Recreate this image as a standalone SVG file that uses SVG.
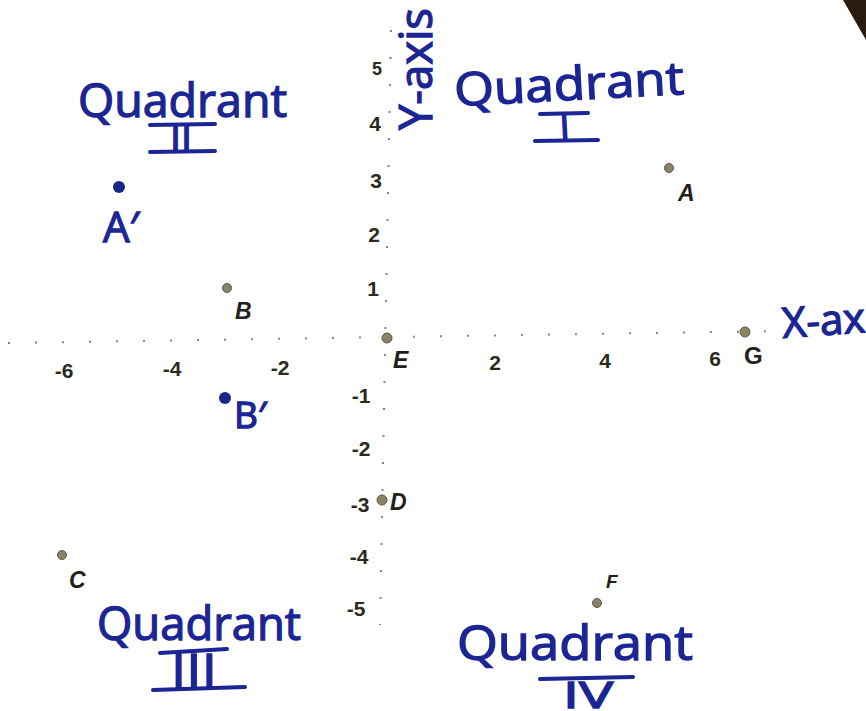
<svg xmlns="http://www.w3.org/2000/svg" width="866" height="711" viewBox="0 0 866 711">
<style>
.hand{font-family:"Open Sans","Liberation Sans",sans-serif;fill:#1b2594;stroke:#1b2594;stroke-width:1.3}
.bar{stroke:#1b2594;stroke-width:4;stroke-linecap:round;fill:none}
.num{font-family:"Liberation Sans",Arial,sans-serif;font-weight:bold;font-size:21px;fill:#2b2a1c;text-anchor:middle}
.lbl{font-family:"Liberation Sans",Arial,sans-serif;font-weight:bold;font-style:italic;font-size:23px;fill:#22201a}
.pt{fill:#8a8366;stroke:#5e573f;stroke-width:1}
.bpt{fill:#1a2688}
.axis{stroke:#8a8570;stroke-width:2;stroke-dasharray:2 25;fill:none}
</style>
<rect width="866" height="711" fill="#ffffff"/>
<polygon points="843,0 866,0 866,40" fill="#2b1a0e"/>
<g id="connectors">
<line class="axis" x1="8" y1="343" x2="780" y2="331"/>
<line class="axis" x1="391" y1="30" x2="380" y2="625"/>
</g>
<g id="x-ticks">
<text class="num" x="64" y="378">-6</text>
<text class="num" x="172" y="376">-4</text>
<text class="num" x="280" y="375">-2</text>
<text class="num" x="495" y="370">2</text>
<text class="num" x="605" y="368">4</text>
<text class="num" x="715" y="366">6</text>
</g>
<g id="y-ticks">
<text class="num" x="377" y="75" style="font-size:18px">5</text>
<text class="num" x="375" y="131">4</text>
<text class="num" x="376" y="188">3</text>
<text class="num" x="374" y="242">2</text>
<text class="num" x="373" y="296">1</text>
<text class="num" x="361" y="403">-1</text>
<text class="num" x="361" y="456">-2</text>
<text class="num" x="360" y="512">-3</text>
<text class="num" x="359" y="564">-4</text>
<text class="num" x="356" y="616">-5</text>
</g>
<g id="point-A"><circle class="pt" cx="669" cy="168" r="4.5"/><text class="lbl" x="678" y="201">A</text></g>
<g id="point-A-prime"><circle class="bpt" cx="119" cy="187" r="6"/><text class="hand" x="103" y="242" style="font-size:42px">A′</text></g>
<g id="point-B"><circle class="pt" cx="227" cy="288" r="4.5"/><text class="lbl" x="235" y="319">B</text></g>
<g id="point-B-prime"><circle class="bpt" cx="225" cy="398" r="6"/><text class="hand" x="234" y="428" style="font-size:37px">B′</text></g>
<g id="point-E"><circle class="pt" cx="387" cy="338" r="5"/><text class="lbl" x="393" y="368">E</text></g>
<g id="point-G"><circle class="pt" cx="745" cy="332" r="5"/><text class="lbl" x="744" y="364" style="font-style:normal;font-size:24px">G</text></g>
<g id="point-C"><circle class="pt" cx="62" cy="555" r="4.5"/><text class="lbl" x="69" y="588">C</text></g>
<g id="point-D"><circle class="pt" cx="382" cy="500" r="5"/><text class="lbl" x="390" y="510">D</text></g>
<g id="point-F"><circle class="pt" cx="597" cy="603" r="4.5"/><text class="lbl" x="606" y="588" style="font-size:19px">F</text></g>
<g id="y-axis-label"><text class="hand" transform="translate(432,130) rotate(-90)" x="0" y="0" style="font-size:46px" textLength="122" lengthAdjust="spacingAndGlyphs">Y-axis</text></g>
<g id="x-axis-label"><text class="hand" transform="translate(783,338) rotate(-4)" x="0" y="0" style="font-size:42px">X-axis</text></g>
<g id="quadrant-II">
<text class="hand" style="font-size:46px"><tspan x="78" y="117" textLength="209" lengthAdjust="spacingAndGlyphs">Quadrant</tspan><tspan x="170" y="151" style="font-size:36px" textLength="22" lengthAdjust="spacingAndGlyphs">II</tspan></text>
<line class="bar" x1="150" y1="125" x2="215" y2="124"/><line class="bar" x1="150" y1="152" x2="215" y2="151"/>
</g>
<g id="quadrant-I">
<text class="hand" transform="translate(455,106) rotate(-3)" style="font-size:46px"><tspan x="0" y="0" textLength="230" lengthAdjust="spacingAndGlyphs">Quadrant</tspan><tspan x="103" y="40" style="font-size:38px">I</tspan></text>
<line class="bar" x1="540" y1="114" x2="588" y2="113"/><line class="bar" x1="535" y1="141" x2="598" y2="140"/>
</g>
<g id="quadrant-III">
<text class="hand" style="font-size:46px"><tspan x="97" y="640" textLength="204" lengthAdjust="spacingAndGlyphs">Quadrant</tspan><tspan x="171" y="688" style="font-size:48px" textLength="46" lengthAdjust="spacingAndGlyphs">III</tspan></text>
<line class="bar" x1="160" y1="653" x2="227" y2="649"/><line class="bar" x1="153" y1="690" x2="245" y2="687"/>
</g>
<g id="quadrant-IV">
<text class="hand" style="font-size:48px"><tspan x="457" y="660" textLength="236" lengthAdjust="spacingAndGlyphs">Quadrant</tspan><tspan x="563" y="708" style="font-size:36px" textLength="50" lengthAdjust="spacingAndGlyphs">IV</tspan></text>
<line class="bar" x1="540" y1="679" x2="633" y2="677"/>
</g>
</svg>
